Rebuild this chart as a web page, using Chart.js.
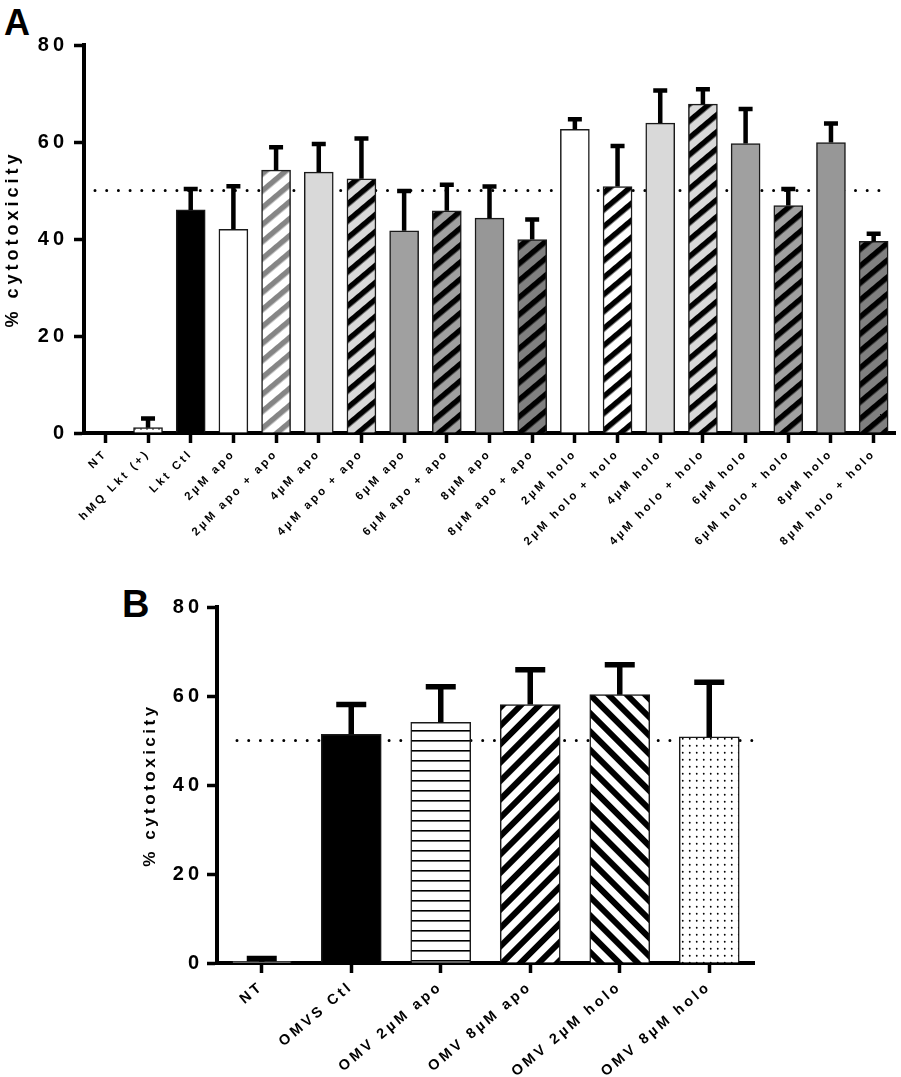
<!DOCTYPE html>
<html>
<head>
<meta charset="utf-8">
<script src="https://cdn.jsdelivr.net/npm/chart.js"></script>
<style>
  body { margin: 0; background: #fff; width: 901px; height: 1077px; position: relative; overflow: hidden;
         font-family: "Liberation Sans", Arial, sans-serif; }
  canvas { position: absolute; left: 0; }
  #chartA { top: 0; }
  #chartB { top: 560px; }
  .tag { position: absolute; font-weight: bold; line-height: 1; color: #000; }
</style>
</head>
<body>
<div class="tag" style="left:4px; top:5px; font-size:36px;">A</div>
<div class="tag" style="left:122px; top:585px; font-size:38px;">B</div>
<canvas id="chartA" width="901" height="570"></canvas>
<canvas id="chartB" width="901" height="517"></canvas>
<script>
// panel A data
const labelsA = ['NT', 'hMQ Lkt (+)', 'Lkt Ctl', '2µM apo', '2µM apo + apo', '4µM apo', '4µM apo + apo',
  '6µM apo', '6µM apo + apo', '8µM apo', '8µM apo + apo', '2µM holo', '2µM holo + holo',
  '4µM holo', '4µM holo + holo', '6µM holo', '6µM holo + holo', '8µM holo', '8µM holo + holo'];
const meansA = [0, 1.1, 46.0, 42.0, 54.2, 53.8, 52.4, 41.7, 45.8, 44.3, 39.9, 62.6, 50.8, 63.9, 67.8, 59.7, 46.9, 59.9, 39.5];
const errA = [0, 1.9, 4.3, 8.9, 4.7, 5.8, 8.3, 8.2, 5.4, 6.5, 4.1, 2.1, 8.4, 6.7, 3.1, 7.1, 3.4, 3.9, 1.6];

// panel B data
const labelsB = ['NT', 'OMVS Ctl', 'OMV 2µM apo', 'OMV 8µM apo', 'OMV 2µM holo', 'OMV 8µM holo'];
const meansB = [0.3, 51.4, 54.1, 58.1, 60.3, 50.8];
const errB = [0.7, 6.7, 8.0, 7.8, 6.7, 12.3];

const yTicks = [0, 20, 40, 60, 80];
const refValue = 50;
const yTitle = '% cytotoxicity';

Chart.defaults.font.family = '"Liberation Sans", Arial, sans-serif';
Chart.defaults.color = '#000';

// fill patterns
function stripes(bg, fg, period, width, angle) {
  const c = document.createElement('canvas');
  c.width = 32; c.height = period;
  const g = c.getContext('2d');
  g.fillStyle = bg; g.fillRect(0, 0, 32, period);
  g.fillStyle = fg; g.fillRect(0, 0, 32, width);
  const p = g.createPattern(c, 'repeat');
  p.setTransform(new DOMMatrix().rotate(angle));
  return p;
}
function dots(step, r) {
  const c = document.createElement('canvas');
  c.width = step; c.height = step;
  const g = c.getContext('2d');
  g.fillStyle = '#fff'; g.fillRect(0, 0, step, step);
  g.fillStyle = '#000';
  g.beginPath(); g.arc(step / 2, step / 2, r, 0, Math.PI * 2); g.fill();
  return g.createPattern(c, 'repeat');
}
function hlines(period, width) {
  const c = document.createElement('canvas');
  c.width = 8; c.height = period;
  const g = c.getContext('2d');
  g.fillStyle = '#fff'; g.fillRect(0, 0, 8, period);
  g.fillStyle = '#000'; g.fillRect(0, 0, 8, width);
  return g.createPattern(c, 'repeat');
}

const light = '#d9d9d9', mid = '#a0a0a0', mid2 = '#979797', dark = '#808080';
const hatchA = (bg, fg) => stripes(bg, fg, 13.8, 5.5, -40);
const fillsA = ['#fff', dots(6, 0.8), '#000', '#fff', hatchA('#fff', '#858585'), light, hatchA(light, '#000'),
  mid, hatchA(mid, '#000'), mid2, hatchA(dark, '#000'), '#fff', hatchA('#fff', '#000'),
  light, hatchA(light, '#000'), mid, hatchA(mid, '#000'), mid2, hatchA(dark, '#000')];
const fillsB = ['#fff', '#000', hlines(10.8, 1.6), stripes('#fff', '#000', 13.4, 6, -45),
  stripes('#fff', '#000', 13.4, 6, 45), dots(7.5, 0.9)];

// dotted reference line behind the bars
const refLine = {
  id: 'refLine',
  beforeDatasetsDraw(chart, args, o) {
    const { ctx, chartArea, scales: { y } } = chart;
    const py = y.getPixelForValue(o.value);
    ctx.save();
    ctx.setLineDash([0, o.gap]);
    ctx.lineCap = 'round';
    ctx.lineWidth = 3;
    ctx.strokeStyle = '#000';
    ctx.beginPath();
    ctx.moveTo(chartArea.left + o.start, py);
    ctx.lineTo(chartArea.right - o.end, py);
    ctx.stroke();
    ctx.restore();
  }
};

// upper error bars
const errBars = {
  id: 'errBars',
  afterDatasetsDraw(chart, args, o) {
    const { ctx, scales: { y } } = chart;
    const meta = chart.getDatasetMeta(0);
    const vals = chart.data.datasets[0].data;
    ctx.save();
    ctx.strokeStyle = '#000';
    ctx.lineWidth = o.width;
    ctx.lineCap = 'butt';
    meta.data.forEach((bar, i) => {
      const e = o.errors[i];
      if (!e) return;
      const top = y.getPixelForValue(vals[i]);
      const cap = y.getPixelForValue(vals[i] + e);
      ctx.beginPath();
      ctx.moveTo(bar.x, top);
      ctx.lineTo(bar.x, cap);
      ctx.moveTo(bar.x - o.cap / 2, cap);
      ctx.lineTo(bar.x + o.cap / 2, cap);
      ctx.stroke();
    });
    ctx.restore();
  }
};

// letter spacing for axis text
function spacing(cfg) {
  return {
    id: 'spacing',
    beforeDraw(chart) {
      for (const id in cfg) {
        const s = chart.scales[id];
        if (!s || s._spaced) continue;
        s._spaced = true;
        const [lab, tit] = cfg[id];
        const dl = s.drawLabels.bind(s), dt = s.drawTitle.bind(s);
        s.drawLabels = function (a) { const c = this.ctx; c.save(); c.letterSpacing = lab + 'px'; dl(a); c.restore(); };
        s.drawTitle = function (a) { const c = this.ctx; c.save(); c.letterSpacing = tit + 'px'; dt(a); c.restore(); };
      }
    }
  };
}

function makeOptions(p) {
  return {
    responsive: false,
    animation: false,
    events: [],
    layout: { padding: p.padding },
    plugins: {
      legend: { display: false },
      tooltip: { enabled: false },
      refLine: { value: refValue, gap: p.gap, start: p.refStart, end: p.refEnd },
      errBars: { errors: p.errors, width: p.errWidth, cap: p.cap }
    },
    scales: {
      x: {
        offset: true,
        grid: { display: true, drawOnChartArea: false, offset: false, tickLength: 10, tickWidth: 3.5, tickColor: '#000' },
        border: { display: true, color: '#000', width: 4 },
        ticks: { autoSkip: false, minRotation: p.rot, maxRotation: p.rot, color: '#000', padding: p.xPad,
                 font: { size: p.xFont, weight: 'bold' } },
        afterFit: s => { s.height = p.xHeight; }
      },
      y: {
        min: 0, max: 80,
        afterBuildTicks: s => { s.ticks = yTicks.map(v => ({ value: v })); },
        grid: { drawOnChartArea: false, tickLength: 10, tickWidth: 3.5, tickColor: '#000' },
        border: { display: true, color: '#000', width: 4 },
        ticks: { color: '#000', padding: p.yPad, font: { size: 20, weight: 'bold' } },
        title: { display: true, text: yTitle, color: '#000', padding: { top: p.titlePad, bottom: 0 },
                 font: { size: p.titleFont, weight: 'bold' } },
        afterFit: s => { s.width = p.yWidth; }
      }
    }
  };
}

new Chart(document.getElementById('chartA'), {
  type: 'bar',
  data: { labels: labelsA, datasets: [{ data: meansA, backgroundColor: fillsA, borderColor: '#1a1a1a',
    borderWidth: 1.5, barThickness: 29 }] },
  options: makeOptions({ padding: { top: 45, right: 6, left: 0, bottom: 0 }, gap: 11.7, refStart: 11, refEnd: 7,
    errors: errA, errWidth: 4.5, cap: 14, rot: 45, xPad: 4, xFont: 11.5, xHeight: 137, yPad: 6,
    titlePad: 2, titleFont: 18, yWidth: 84 }),
  plugins: [refLine, errBars, spacing({ x: [2.8, 0], y: [4, 4] })]
});

new Chart(document.getElementById('chartB'), {
  type: 'bar',
  data: { labels: labelsB, datasets: [{ data: meansB, backgroundColor: fillsB, borderColor: '#1a1a1a',
    borderWidth: 1.5, barThickness: 60 }] },
  options: makeOptions({ padding: { top: 47, right: 147, left: 138, bottom: 0 }, gap: 11.7, refStart: 20, refEnd: 1,
    errors: errB, errWidth: 5.5, cap: 30, rot: 40, xPad: 5, xFont: 14.5, xHeight: 114, yPad: 4,
    titlePad: 2, titleFont: 17, yWidth: 79 }),
  plugins: [refLine, errBars, spacing({ x: [3.2, 0], y: [4, 3.5] })]
});
</script>
</body>
</html>
